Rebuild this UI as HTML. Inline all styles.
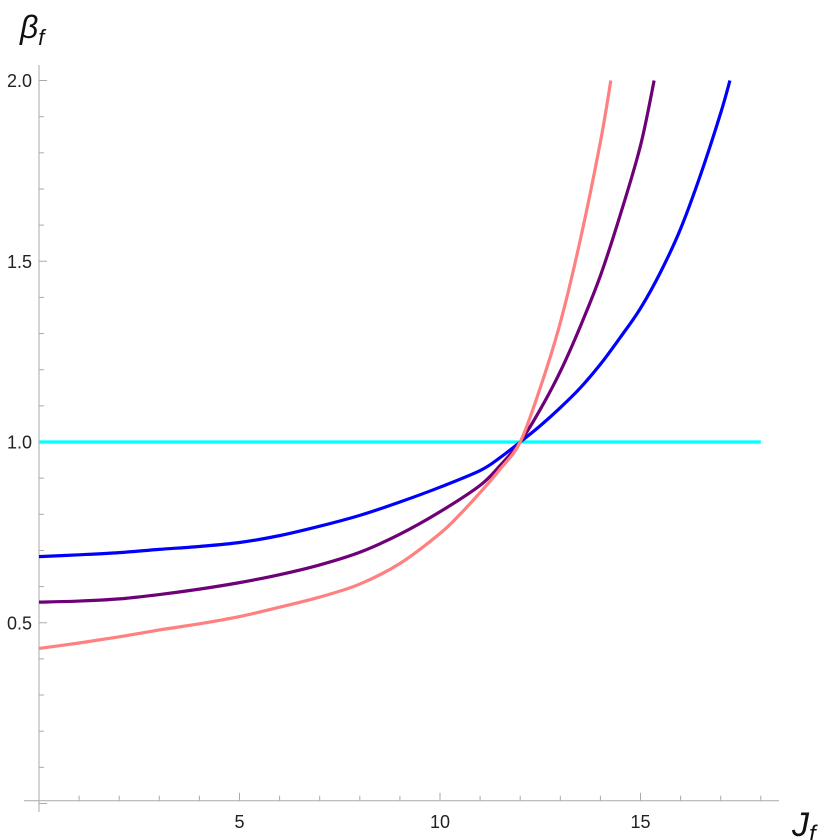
<!DOCTYPE html>
<html><head><meta charset="utf-8"><style>body{margin:0;background:#fff}svg{display:block}text{font-family:"Liberation Sans",sans-serif}</style></head>
<body>
<svg id="chart" width="830" height="840" viewBox="0 0 830 840" xmlns="http://www.w3.org/2000/svg"></svg>
<script>
const xTicksMajor = [5, 10, 15];
const yTicksMajor = [0.5, 1.0, 1.5, 2.0];
const yTickLabels = ["0.5", "1.0", "1.5", "2.0"];
const blueJ = [0, 1, 2, 3, 4, 5, 6, 7, 8, 9, 10, 11, 11.5, 12, 12.5, 13, 13.5, 14, 14.5, 15, 15.5, 16, 16.5, 17, 17.23];
const blueB = [0.683, 0.688, 0.694, 0.703, 0.711, 0.722, 0.741, 0.767, 0.797, 0.834, 0.875, 0.921, 0.957, 1.0, 1.045, 1.095, 1.15, 1.215, 1.29, 1.37, 1.47, 1.59, 1.74, 1.91, 2.0];
const purpleJ = [0, 1, 2, 3, 4, 5, 6, 7, 8, 9, 10, 11, 11.5, 12, 12.5, 13, 13.5, 14, 14.5, 15, 15.34];
const purpleB = [0.557, 0.560, 0.566, 0.578, 0.593, 0.611, 0.633, 0.660, 0.695, 0.745, 0.807, 0.880, 0.935, 1.0, 1.09, 1.195, 1.32, 1.46, 1.63, 1.82, 2.0];
const pinkJ = [0, 1, 2, 3, 4, 5, 6, 7, 8, 9, 10, 10.5, 11, 11.5, 12, 12.5, 13, 13.5, 14, 14.26];
const pinkB = [0.429, 0.444, 0.461, 0.480, 0.497, 0.517, 0.543, 0.571, 0.607, 0.664, 0.747, 0.800, 0.860, 0.925, 1.0, 1.15, 1.33, 1.56, 1.83, 2.0];
const cyanJ = [0, 18];
const cyanB = [1.0, 1.0];

const NS = "http://www.w3.org/2000/svg";
const svg = document.getElementById("chart");
const X = j => 39 + j * 40.1;
const Y = b => 803.5 - b * 361.5;
function mk(tag, attrs, parent) {
  const e = document.createElementNS(NS, tag);
  for (const k in attrs) e.setAttribute(k, attrs[k]);
  (parent || svg).appendChild(e);
  return e;
}
const axisY = 800.7;
let e = mk("line", {x1: 24, y1: axisY, x2: 779, y2: axisY, stroke: "#aaa", "stroke-width": 1});


e = mk("line", {x1: 39, y1: 65, x2: 39, y2: 812, stroke: "#aaa", "stroke-width": 1});


for (let i = 1; i <= 18; i++) {
  const major = i % 5 === 0;
  e = mk("line", {x1: X(i), y1: axisY, x2: X(i), y2: axisY - (major ? 8 : 5), stroke: "#aaa", "stroke-width": 1});
  
  
}
xTicksMajor.forEach(v => {
  e = mk("text", {x: X(v), y: 828, "text-anchor": "middle", "font-size": 18, fill: "#222"});
  e.textContent = String(v);
  
  
});
for (let i = 0; i <= 20; i++) {
  const b = i / 10;
  const major = i % 5 === 0;
  e = mk("line", {x1: 39, y1: Y(b), x2: 39 + (major ? 8 : 5), y2: Y(b), stroke: "#aaa", "stroke-width": 1});
  
  
}
yTicksMajor.forEach((v, i) => {
  e = mk("text", {x: 32, y: Y(v) + 6.5, "text-anchor": "end", "font-size": 18, fill: "#222"});
  e.textContent = yTickLabels[i];
  
  
});
e = mk("text", {x: 20, y: 38, "font-size": 32, "font-style": "italic", fill: "#111"});
e.innerHTML = 'β<tspan font-size="22" dy="7">f</tspan>';


e = mk("text", {x: 792, y: 836, "font-size": 34, "font-style": "italic", fill: "#111"});
e.innerHTML = 'J<tspan font-size="24" dy="6">f</tspan>';


function series(js, bs, color, name) {
  const pts = js.map((j, i) => [X(j), Y(bs[i])]);
  let d = "M" + pts[0][0] + "," + pts[0][1];
  for (let i = 0; i < pts.length - 1; i++) {
    const p0 = pts[Math.max(0, i - 1)], p1 = pts[i], p2 = pts[i + 1], p3 = pts[Math.min(pts.length - 1, i + 2)];
    const c1 = [p1[0] + (p2[0] - p0[0]) / 6, p1[1] + (p2[1] - p0[1]) / 6];
    const c2 = [p2[0] - (p3[0] - p1[0]) / 6, p2[1] - (p3[1] - p1[1]) / 6];
    d += " C" + c1 + " " + c2 + " " + p2;
  }
  const p = mk("path", {d: d, fill: "none", stroke: color, "stroke-width": 3.2});
  
  
}
series(cyanJ, cyanB, "#00ffff", "cyan-line");
series(blueJ, blueB, "#0000ff", "blue-curve");
series(purpleJ, purpleB, "#6e0078", "purple-curve");
series(pinkJ, pinkB, "#ff8080", "pink-curve");
</script>
</body></html>
